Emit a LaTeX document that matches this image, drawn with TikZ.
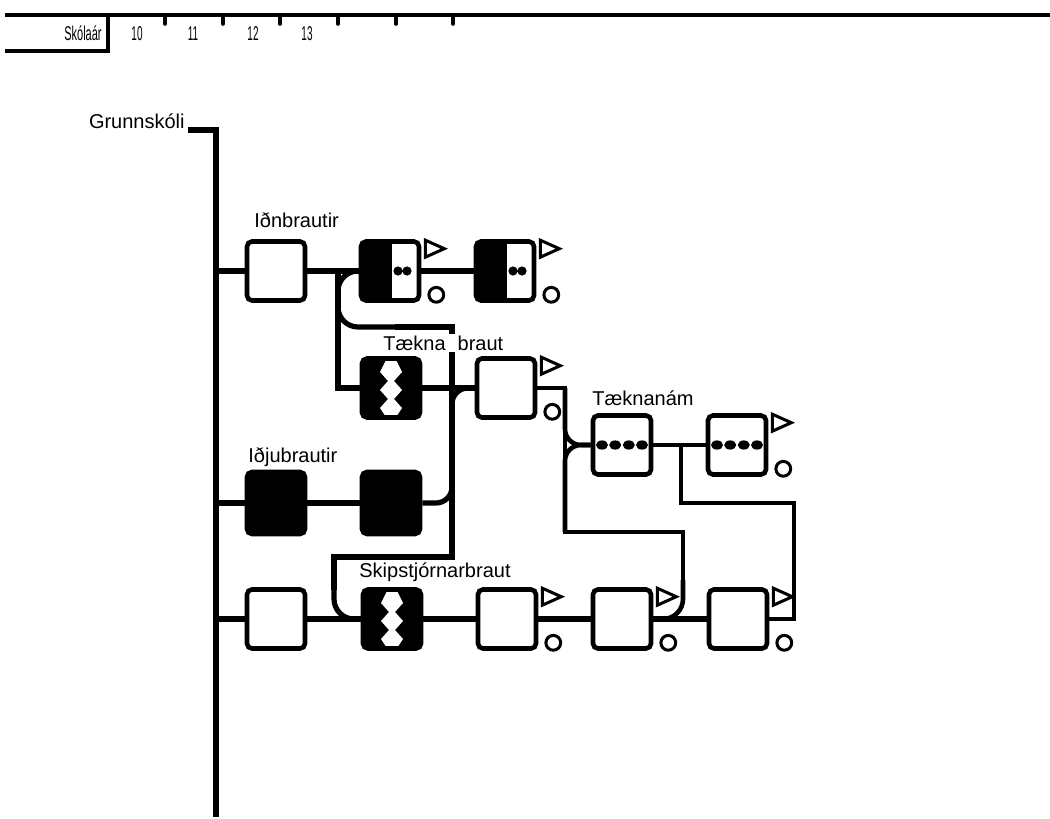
\documentclass[tikz,border=0pt]{standalone}
\usepackage{fontspec}
\setmainfont{Liberation Sans}

\begin{document}
\begin{tikzpicture}[x=0.5pt, y=-0.5pt,
    eining/.style={draw, line width=2.3pt, rounded corners=2.5pt, fill=white,
      minimum width=29pt, minimum height=29.5pt, inner sep=0pt},
    svort/.style={eining, fill=black, minimum height=31pt},
    halfsvort/.style={eining, path picture={
        \fill[black, sharp corners] (path picture bounding box.north west) rectangle ([xshift=1pt]path picture bounding box.south);
        \fill[black] ([xshift=4pt]path picture bounding box.center) circle (2.3pt)
              ([xshift=8.5pt]path picture bounding box.center) circle (2.3pt);}},
    punkta/.style={eining, path picture={
        \foreach \d in {-10,-3.4,3.4,10}
          \fill[black] ([xshift=\d pt]path picture bounding box.center) ellipse (3pt and 2.3pt);}},
    sik/.style={eining, fill=black, path picture={
        \fill[white, sharp corners, shift={(path picture bounding box.center)}, x=1pt, y=1pt]
          (-1.5,18) -- (-1.5,16) -- (-5.5,8) -- (-1.5,3.5) -- (-5.5,-1) -- (-1.5,-5.5) -- (-5.5,-10)
          -- (-1.5,-16) -- (-1.5,-18) -- (1.5,-18) -- (1.5,-16) -- (5.5,-10) -- (1.5,-5.5)
          -- (5.5,-1) -- (1.5,3.5) -- (5.5,8) -- (1.5,16) -- (1.5,18) -- cycle;}},
    leid/.style={line width=2.6pt},
    grannleid/.style={line width=2.3pt},
    merki/.style={draw, line width=1.5pt},
    heiti/.style={font=\fontsize{10}{12}\selectfont, inner sep=0pt, anchor=base west},
    haus/.style={font=\fontsize{10}{12}\selectfont, inner sep=0pt, anchor=base}]

  \useasboundingbox (0,0) rectangle (1050,819);

  % Haus: skólaár
  \draw[line width=2pt] (5,15) -- (1050,15);
  \draw[line width=2pt] (5,51) -- (108,51) -- (108,15);
  \foreach \x in {165,223,280,338,396,453}
    \draw[line width=1.8pt, line cap=round] (\x,15) -- (\x,24);
  \node[haus, anchor=base east] (skolaar) at (102,40) {\scalebox{0.55}[1]{Skólaár}};
  \foreach \x/\n in {137/10,193/11,253/12,307/13}
    \node[haus] (ar\n) at (\x,40) {\scalebox{0.5}[1]{\n}};

  % Grunnskóli og meginlína
  \node[heiti, anchor=base east] (grunn) at (185,128) {Grunnskóli};
  \coordinate (g1) at (216,130);
  \coordinate (g2) at (216,817);
  \draw[line width=3pt] ([xshift=1.5pt,yshift=-1pt]grunn.base east) -- (g1) -- (g2);
  \coordinate (m1) at (216,271);
  \coordinate (m2) at (216,503);
  \coordinate (m3) at (216,619);

  % Einingar
  \node[eining] (b1) at (276,271) {};
  \node[halfsvort] (b2) at (390,271) {};
  \node[halfsvort] (b3) at (505,271) {};
  \node[sik] (z1) at (391,388) {};
  \node[eining] (t1) at (506,388) {};
  \node[punkta] (n1) at (622,445) {};
  \node[punkta] (n2) at (737,445) {};
  \node[svort] (j1) at (276,503) {};
  \node[svort] (j2) at (391,503) {};
  \node[eining] (s0) at (276,619) {};
  \node[sik] (z2) at (392,619) {};
  \node[eining] (s1) at (507,619) {};
  \node[eining] (s2) at (622,619) {};
  \node[eining] (s3) at (738,619) {};

  % Lok: þríhyrningur og hringur
  \foreach \u in {b2,b3,t1,n2,s1,s2,s3} {
    \draw[merki] ([xshift=2pt,yshift=-0.5pt]\u.north east) -- ++(0pt,-8.5pt) -- ++(9.5pt,4.25pt) -- cycle;
    \draw[merki] ([xshift=7.5pt,yshift=4pt]\u.south east) circle (3.7pt);
  }

  % Iðnbrautir
  \coordinate (k1) at (338,271);
  \coordinate (k2) at (338,327);
  \coordinate (k23) at (395,327);
  \coordinate (k3) at (452,327);
  \coordinate (k4) at (452,388);
  \coordinate (k5) at (452,503);
  \coordinate (k6) at (452,557);
  \coordinate (k7) at (334,557);
  \coordinate (k78) at (334,590);
  \coordinate (k8) at (334,619);
  \draw[leid] (m1) -- (b1.west);
  \draw[leid] (b1.east) -- (b2.west);
  \draw[leid] (b2.east) -- (b3.west);
  \draw[leid] (k1) -- (k1 |- z1) -- (z1.west);
  \draw[leid, rounded corners=10pt] (b2.west) -- (k1) -- (k2) -- (k23);
  \draw[leid] (k23) -- (k3) -- (k6) -- (k7) -- (k78);
  \draw[leid, rounded corners=10pt] (k78) -- (k8) -- (z2.west);

  % Tæknabraut og iðjubrautir
  \draw[leid] (z1.east) -- (t1.west);
  \draw[leid, rounded corners=8pt] (t1.west) -- (k4) -- (k5);
  \draw[leid] (m2) -- (j1.west);
  \draw[leid] (j1.east) -- (j2.west);
  \draw[leid, rounded corners=8pt] (j2.east) -- (k5) -- (k4);

  % Skipstjórnarbraut
  \draw[leid] (m3) -- (s0.west);
  \draw[leid] (s0.east) -- (z2.west);
  \draw[leid] (z2.east) -- (s1.west);
  \draw[leid] (s1.east) -- (s2.west);
  \draw[leid] (s2.east) -- (s3.west);

  % Tæknanám
  \coordinate (q1) at (565,388);
  \coordinate (q2) at (565,445);
  \coordinate (q3) at (565,532);
  \coordinate (q4) at (683,532);
  \coordinate (q45) at (683,580);
  \coordinate (q5) at (683,619);
  \draw[grannleid] (t1.east) -- (q1) -- (q3) -- (q4) -- (q45);
  \draw[grannleid, rounded corners=10pt] (q45) -- (q5) -- (s2.east);
  \draw[grannleid, rounded corners=8pt] (q1) -- (q2) -- (n1.west);
  \draw[grannleid, rounded corners=8pt] (q3) -- (q2) -- (n1.west);
  \draw[grannleid] (n1.east) -- (n2.west);
  \coordinate (r1) at (681,445);
  \coordinate (r2) at (681,503);
  \coordinate (r3) at (794,503);
  \coordinate (r4) at (794,619);
  \draw[grannleid] (r1) -- (r2) -- (r3) -- (r4) -- (s3.east);

  % Heiti
  \node[heiti] (idn) at (254,227) {Iðnbrautir};
  \node[heiti, fill=white, inner sep=1pt] (taekni) at (381,350) {Tækna\hspace{6pt}braut};
  \node[heiti] (taeknanam) at (592,405) {Tæknanám};
  \node[heiti] (idja) at (248,462) {Iðjubrautir};
  \node[heiti] (skip) at (359,577) {Skipstjórnarbraut};
\end{tikzpicture}
\end{document}
